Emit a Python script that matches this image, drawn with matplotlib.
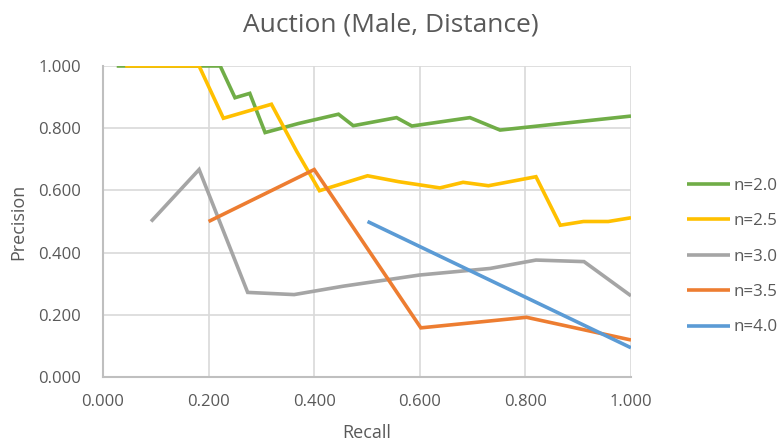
import matplotlib
matplotlib.use("Agg")
import matplotlib.pyplot as plt
from matplotlib.ticker import FormatStrFormatter

plt.rcParams['font.family'] = ['Open Sans', 'DejaVu Sans']

# Data
labels = ["n=2.0", "n=2.5", "n=3.0", "n=3.5", "n=4.0"]
colors = ["#70AD47", "#FFC000", "#A5A5A5", "#ED7D31", "#5B9BD5"]

r20 = [0.026, 0.222, 0.250, 0.278, 0.307, 0.370, 0.446, 0.474, 0.556, 0.585, 0.695, 0.752, 1.000]
p20 = [1.000, 1.000, 0.898, 0.912, 0.786, 0.815, 0.845, 0.808, 0.834, 0.807, 0.834, 0.794, 0.839]

r25 = [0.042, 0.182, 0.228, 0.319, 0.367, 0.410, 0.501, 0.560, 0.638, 0.682, 0.730, 0.820, 0.866, 0.910, 0.957, 1.000]
p25 = [1.000, 1.000, 0.832, 0.877, 0.725, 0.599, 0.647, 0.628, 0.608, 0.626, 0.615, 0.644, 0.488, 0.500, 0.500, 0.512]

r30 = [0.091, 0.182, 0.274, 0.362, 0.455, 0.600, 0.733, 0.820, 0.911, 1.000]
p30 = [0.500, 0.667, 0.272, 0.265, 0.292, 0.328, 0.349, 0.376, 0.371, 0.261]

r35 = [0.200, 0.400, 0.602, 0.802, 1.000]
p35 = [0.500, 0.667, 0.158, 0.192, 0.119]

r40 = [0.501, 1.000]
p40 = [0.500, 0.094]

series = [(r20, p20), (r25, p25), (r30, p30), (r35, p35), (r40, p40)]

fig = plt.figure(figsize=(7.81, 4.43), dpi=100)
ax = fig.add_axes([103/781, 1-377/443, (631-103)/781, (377-66)/443])

for (x, y), lab, c in zip(series, labels, colors):
    ax.plot(x, y, color=c, lw=2.6, label=lab, solid_joinstyle='miter', solid_capstyle='butt')

ax.set_xlim(0, 1)
ax.set_ylim(0, 1)
ax.set_xticks([0, 0.2, 0.4, 0.6, 0.8, 1.0])
ax.set_yticks([0, 0.2, 0.4, 0.6, 0.8, 1.0])
ax.xaxis.set_major_formatter(FormatStrFormatter('%.3f'))
ax.yaxis.set_major_formatter(FormatStrFormatter('%.3f'))
ax.grid(True, color='#D9D9D9', lw=1.2)
ax.set_axisbelow(True)
for s in ['top', 'right']:
    ax.spines[s].set_visible(False)
for s in ['left', 'bottom']:
    ax.spines[s].set_color('#BFBFBF')
    ax.spines[s].set_linewidth(1.5)
ax.tick_params(length=0, labelsize=12, colors='#595959')
ax.tick_params(axis='y', pad=16)
ax.tick_params(axis='x', pad=12.5)

ax.set_xlabel('Recall', fontsize=13, color='#595959', labelpad=10)
ax.set_ylabel('Precision', fontsize=13, color='#595959', labelpad=8)
fig.suptitle('Auction (Male, Distance)', fontsize=19, color='#595959', x=0.5, y=0.972)

leg = ax.legend(loc='center left', bbox_to_anchor=(672/781, 1-256.5/443),
                bbox_transform=fig.transFigure, frameon=False,
                fontsize=12.2, handlelength=2.5, labelspacing=1.15, handletextpad=0.23,
                labelcolor='#595959')

fig.savefig('out.png', dpi=100)
